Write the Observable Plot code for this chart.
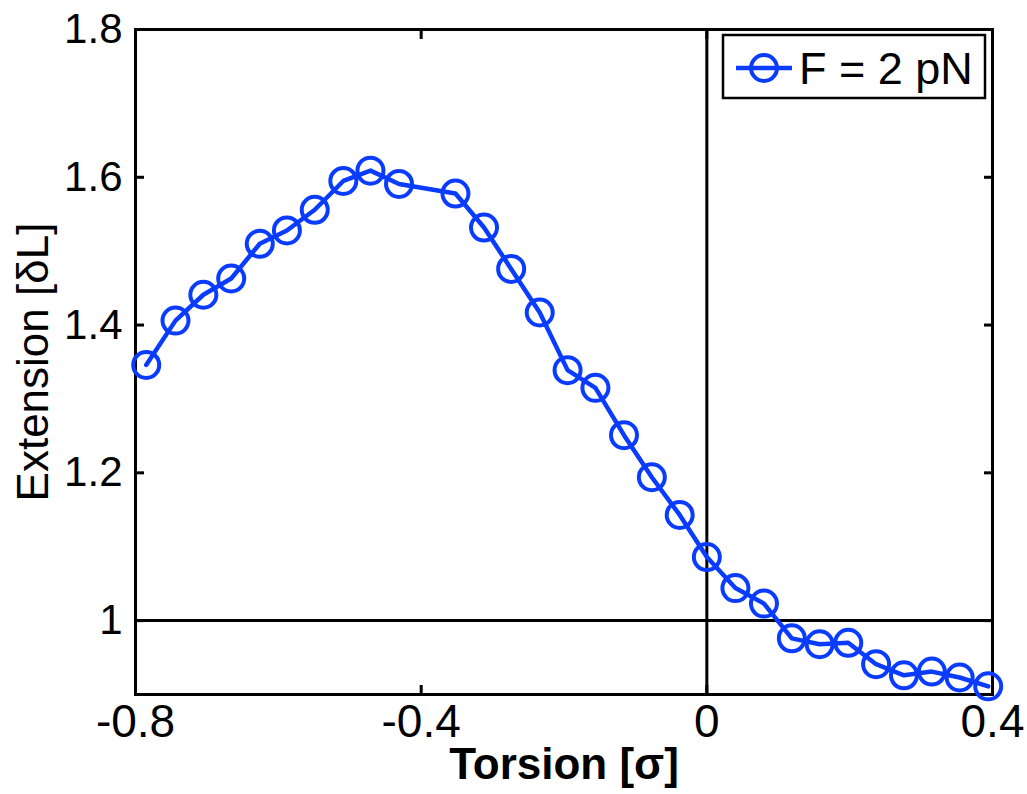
<!DOCTYPE html>
<html>
<head>
<meta charset="utf-8">
<script src="https://cdn.jsdelivr.net/npm/d3@7"></script>
<script src="https://cdn.jsdelivr.net/npm/@observablehq/plot@0.6"></script>
<style>
  body { margin: 0; background: white; }
  #wrap { position: relative; width: 1027px; height: 794px; font-family: "Liberation Sans", Arial, sans-serif; }
  #legend { position: absolute; left: 0; top: 0; }
</style>
</head>
<body>
<div id="wrap"></div>
<script>
// Data
const torsion = [-0.785, -0.744, -0.705, -0.666, -0.626, -0.588, -0.549, -0.509, -0.471, -0.431,
                 -0.352, -0.312, -0.274, -0.234, -0.195, -0.156, -0.116, -0.077, -0.038, 0.000,
                 0.040, 0.080, 0.119, 0.158, 0.198, 0.237, 0.276, 0.315, 0.354, 0.394];
const extension = [1.346, 1.406, 1.441, 1.463, 1.510, 1.528, 1.556, 1.595, 1.609, 1.591,
                   1.578, 1.532, 1.476, 1.417, 1.339, 1.315, 1.251, 1.194, 1.143, 1.086,
                   1.044, 1.023, 0.976, 0.968, 0.970, 0.941, 0.926, 0.931, 0.923, 0.911];
const xTicks = [-0.8, -0.4, 0, 0.4];
const yTicks = [1, 1.2, 1.4, 1.6, 1.8];
const seriesLabel = "F = 2 pN";
const xLabel = "Torsion [σ]";
const yLabel = "Extension [δL]";
const blue = "#0a3cff";

const data = torsion.map((x, i) => ({x, y: extension[i]}));
const fmt = d => String(d);

const chart = Plot.plot({
  width: 1027,
  height: 794,
  marginLeft: 135,
  marginRight: 35,
  marginTop: 29,
  marginBottom: 100,
  style: {fontFamily: "'Liberation Sans', Arial, sans-serif", background: "white", color: "black", overflow: "visible"},
  x: {domain: [-0.8, 0.4], label: null},
  y: {domain: [0.9, 1.8], label: null},
  marks: [
    Plot.ruleY([1], {stroke: "black", strokeWidth: 3}),
    Plot.ruleX([0], {stroke: "black", strokeWidth: 3}),
    // tick labels
    Plot.axisX(xTicks, {anchor: "bottom", tickSize: 0, tickPadding: 10, tickFormat: fmt, fontSize: 46, label: null}),
    Plot.axisY(yTicks, {anchor: "left", tickSize: 0, tickPadding: 13, tickFormat: fmt, fontSize: 42, label: null}),
    // inward tick marks on all four sides
    Plot.axisX(xTicks, {anchor: "bottom", tickSize: -9, tickFormat: () => "", strokeWidth: 3, label: null}),
    Plot.axisX(xTicks, {anchor: "top", tickSize: -9, tickFormat: () => "", strokeWidth: 3, label: null}),
    Plot.axisY(yTicks, {anchor: "left", tickSize: -9, tickFormat: () => "", strokeWidth: 3, label: null}),
    Plot.axisY(yTicks, {anchor: "right", tickSize: -9, tickFormat: () => "", strokeWidth: 3, label: null}),
    Plot.frame({stroke: "black", strokeWidth: 3}),
    Plot.line(data, {x: "x", y: "y", stroke: blue, strokeWidth: 4.5, clip: false}),
    Plot.dot(data, {x: "x", y: "y", r: 13, stroke: blue, strokeWidth: 4, fill: "none"}),
    // axis titles
    Plot.text([xLabel], {frameAnchor: "bottom", textAnchor: "middle", dy: 84, fontSize: 44, fontWeight: "bold", fill: "black"}),
    Plot.text([yLabel], {frameAnchor: "left", textAnchor: "middle", dx: -102, rotate: -90, fontSize: 44, fill: "black"})
  ]
});
const wrap = document.getElementById("wrap");
wrap.appendChild(chart);

// Legend overlay
const ns = "http://www.w3.org/2000/svg";
const lg = document.createElementNS(ns, "svg");
lg.setAttribute("id", "legend");
lg.setAttribute("width", 1027);
lg.setAttribute("height", 794);
lg.style.pointerEvents = "none";
const box = document.createElementNS(ns, "rect");
box.setAttribute("x", 723); box.setAttribute("y", 35);
box.setAttribute("width", 262); box.setAttribute("height", 63);
box.setAttribute("fill", "white"); box.setAttribute("stroke", "black"); box.setAttribute("stroke-width", 2.5);
lg.appendChild(box);
const ln = document.createElementNS(ns, "line");
ln.setAttribute("x1", 736); ln.setAttribute("x2", 792); ln.setAttribute("y1", 68); ln.setAttribute("y2", 68);
ln.setAttribute("stroke", blue); ln.setAttribute("stroke-width", 4.5);
lg.appendChild(ln);
const c = document.createElementNS(ns, "circle");
c.setAttribute("cx", 764); c.setAttribute("cy", 68); c.setAttribute("r", 13);
c.setAttribute("fill", "none"); c.setAttribute("stroke", blue); c.setAttribute("stroke-width", 4);
lg.appendChild(c);
const t = document.createElementNS(ns, "text");
t.setAttribute("x", 799); t.setAttribute("y", 84);
t.setAttribute("font-size", 45);
t.setAttribute("font-family", "'Liberation Sans', Arial, sans-serif");
t.textContent = seriesLabel;
lg.appendChild(t);
wrap.appendChild(lg);
</script>
</body>
</html>
